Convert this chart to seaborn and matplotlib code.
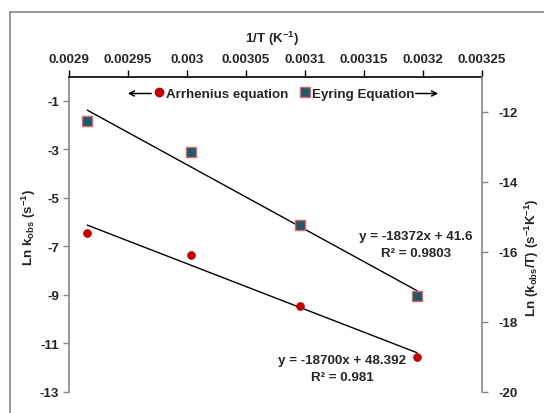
import numpy as np
import pandas as pd
import matplotlib
matplotlib.use("Agg")
import matplotlib.pyplot as plt
import seaborn as sns
from matplotlib.lines import Line2D
from matplotlib.patches import Rectangle, FancyArrowPatch

# ---- data ----
inv_T = [0.0029155, 0.0030030, 0.0030960, 0.0031949]       # 1/T (K^-1)
ln_k = [-6.43, -7.35, -9.47, -11.545]                       # Arrhenius: ln k_obs
ln_k_T = [-12.26, -13.16, -15.24, -17.27]                   # Eyring: ln(k_obs/T)
x_ticks = [0.0029, 0.00295, 0.003, 0.00305, 0.0031, 0.00315, 0.0032, 0.00325]
x_tick_labels = ["0.0029", "0.00295", "0.003", "0.00305", "0.0031", "0.00315", "0.0032", "0.00325"]
left_ticks = [-13, -11, -9, -7, -5, -3, -1]
right_ticks = [-20, -18, -16, -14, -12]
series_names = ["Arrhenius equation", "Eyring Equation"]
eq_arr = ["y = -18700x + 48.392", "R\u00b2 = 0.981"]
eq_eyr = ["y = -18372x + 41.6", "R\u00b2 = 0.9803"]

df = pd.DataFrame({"invT": inv_T, "lnk": ln_k, "lnkT": ln_k_T})

sns.set_theme(style="white")
plt.rcParams["font.family"] = ["Liberation Sans", "DejaVu Sans"]
plt.rcParams["font.weight"] = "bold"
plt.rcParams["axes.unicode_minus"] = False
plt.rcParams["mathtext.fontset"] = "custom"
plt.rcParams["mathtext.rm"] = "Liberation Sans:bold"
plt.rcParams["mathtext.bf"] = "Liberation Sans:bold"
plt.rcParams["mathtext.it"] = "Liberation Sans:bold"
plt.rcParams["mathtext.default"] = "bf"

W, H = 544, 414
fig = plt.figure(figsize=(W / 100, H / 100), dpi=100)
fig.patch.set_facecolor("white")

def fx(px):
    return px / W

def fy(py):
    return 1 - py / H

L, R, T, B = 69, 482, 77.5, 393
ax = fig.add_axes([fx(L), fy(B), fx(R) - fx(L), fy(T) - fy(B)])
ax2 = ax.twinx()

red = "#C00000"
teal = "#215968"
pink = "#E06666"
grey = "#868686"
fs = 9.6

# trendlines + points
sns.regplot(data=df, x="invT", y="lnk", ax=ax, scatter=False, ci=None,
            line_kws=dict(color="black", lw=1.0))
sns.scatterplot(data=df, x="invT", y="lnk", ax=ax, color=red, marker="o",
                s=32, edgecolor=red, linewidth=0.5, zorder=5)
sns.regplot(data=df, x="invT", y="lnkT", ax=ax2, scatter=False, ci=None,
            line_kws=dict(color="black", lw=1.0))
sns.scatterplot(data=df, x="invT", y="lnkT", ax=ax2, color=teal, marker="s",
                s=44, edgecolor=pink, linewidth=1.0, zorder=5)

ax.set_xlim(0.0029, 0.00325)
ax.set_ylim(-13, 0)
ax2.set_ylim(-20, -11)

ax.set_xticks(x_ticks)
ax.set_xticklabels(x_tick_labels, fontsize=fs, fontweight="bold")
ax.xaxis.tick_top()
ax.xaxis.set_label_position("top")
ax.tick_params(axis="x", direction="out", length=5, width=1, color="black", pad=3.5)

ax.set_yticks(left_ticks)
ax.set_yticklabels([str(v) for v in left_ticks], fontsize=fs, fontweight="bold")
ax.tick_params(axis="y", direction="out", length=4, width=1, color=grey, pad=3)

ax2.set_yticks(right_ticks)
ax2.set_yticklabels([str(v) for v in right_ticks], fontsize=fs, fontweight="bold")
ax2.tick_params(axis="y", direction="out", length=4, width=1, color=grey, pad=8)

for a in (ax, ax2):
    a.grid(False)
    a.set_facecolor("none")
    for s in a.spines.values():
        s.set_visible(False)
ax.spines["top"].set_visible(True)
ax.spines["top"].set_color("black")
ax.spines["top"].set_linewidth(1.2)
ax.spines["left"].set_visible(True)
ax.spines["left"].set_color(grey)
ax.spines["left"].set_linewidth(1.2)
ax2.spines["right"].set_visible(True)
ax2.spines["right"].set_color(grey)
ax2.spines["right"].set_linewidth(1.2)

ax.set_xlabel("1/T (K$^{-1}$)", fontsize=fs, fontweight="bold")
ax.xaxis.set_label_coords((272 - L) / (R - L), (B - 43) / (B - T))
ax.set_ylabel("Ln k$_{obs}$ (s$^{-1}$)", fontsize=fs, fontweight="bold")
ax.yaxis.set_label_coords((38 - L) / (R - L), (B - 227) / (B - T))
ax2.set_ylabel("Ln (k$_{obs}$/T) (s$^{-1}$K$^{-1}$)", fontsize=fs, fontweight="bold",
               rotation=90)
ax2.yaxis.set_label_coords((523 - L) / (R - L), (B - 258) / (B - T))

# equation annotations
fig.text(fx(416), fy(237), eq_eyr[0], ha="center", va="center", fontsize=fs, fontweight="bold")
fig.text(fx(416), fy(254), eq_eyr[1], ha="center", va="center", fontsize=fs, fontweight="bold")
fig.text(fx(342), fy(361), eq_arr[0], ha="center", va="center", fontsize=fs, fontweight="bold")
fig.text(fx(342), fy(378), eq_arr[1], ha="center", va="center", fontsize=fs, fontweight="bold")

# legend
handles = [
    Line2D([], [], linestyle="none", marker="o", markersize=6, markerfacecolor=red,
           markeredgecolor=red),
    Line2D([], [], linestyle="none", marker="s", markersize=6.5, markerfacecolor=teal,
           markeredgecolor=pink, markeredgewidth=1.0),
]
fig.legend(handles, series_names, loc="center", bbox_to_anchor=(fx(285), fy(94.5)),
           ncol=2, frameon=False, handlelength=0.5, handletextpad=0.25,
           columnspacing=1.0, prop=dict(size=fs, weight="bold"), borderpad=0)

# arrows of legend
fig.add_artist(FancyArrowPatch((fx(154), fy(94.5)), (fx(125), fy(94.5)),
               transform=fig.transFigure, arrowstyle="->", mutation_scale=9, lw=1.1, color="black"))
fig.add_artist(FancyArrowPatch((fx(413), fy(94.5)), (fx(441), fy(94.5)),
               transform=fig.transFigure, arrowstyle="->", mutation_scale=9, lw=1.1, color="black"))

# outer chart border
fig.add_artist(Rectangle((fx(10), fy(440)), fx(560) - fx(10), fy(13) - fy(440),
                         transform=fig.transFigure, fill=False, edgecolor=grey, lw=1.2))

fig.savefig("out.png", dpi=100)
